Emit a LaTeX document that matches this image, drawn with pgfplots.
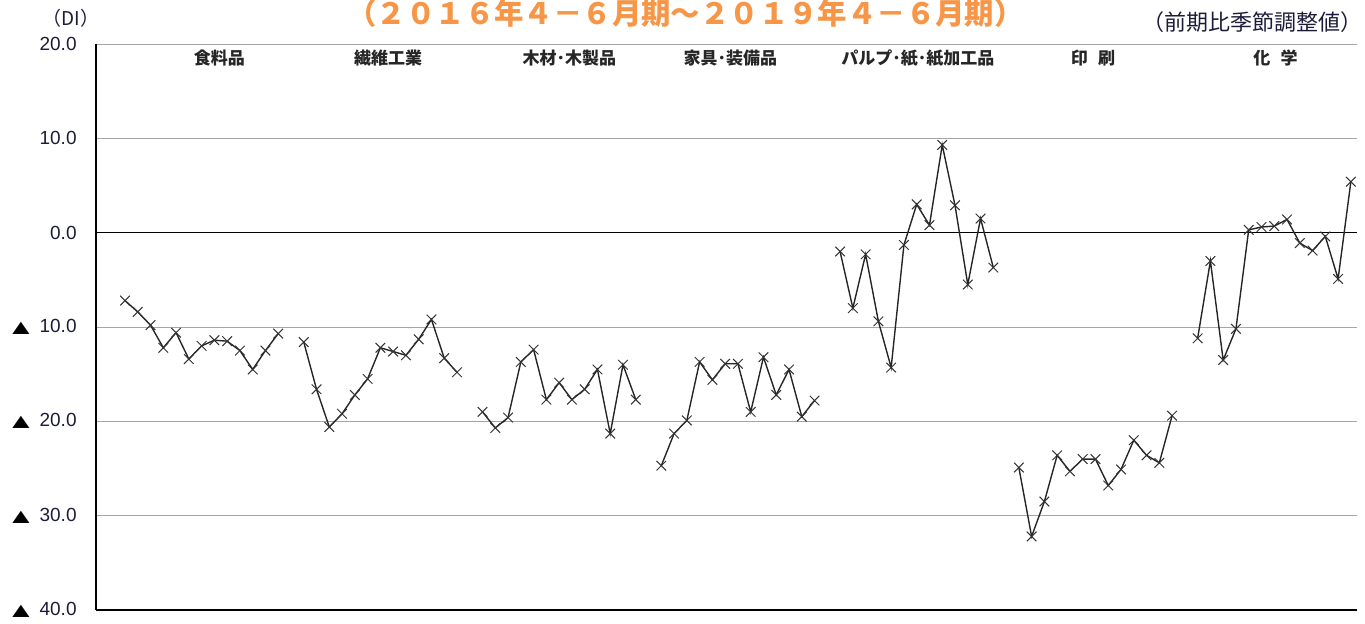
\documentclass[border=0pt]{standalone}
\usepackage{fontspec}
\setmainfont{Liberation Sans}
\newfontfamily\jp{Noto Sans CJK JP}
\newfontfamily\dv{DejaVu Sans}
\usepackage{pgfplots}
\pgfplotsset{compat=1.18}
\definecolor{ttl}{HTML}{F79646}
\definecolor{tk}{HTML}{1C1C38}
\newcommand{\tri}{\textcolor{black}{\scalebox{1.4}[1]{\dv\fontsize{8}{9}\selectfont ▲}}\hspace{5pt}}
\pgfplotsset{ser/.style={black!85, line width=0.7pt, mark=x, mark size=3.4pt, mark options={solid, black!80, line width=0.5pt}}}
\begin{document}
\begin{tikzpicture}
\path[use as bounding box] (-48pt,-6.5pt) rectangle (634.5pt,305pt);
\begin{axis}[
  at={(0,0)}, anchor=south west,
  width=630.5pt, height=283pt, scale only axis,
  xmin=-2.27, xmax=96.48, ymin=-40, ymax=20,
  axis lines=left, axis line style={-, black, line width=0.6pt},
  xtick=\empty,
  ytick={-40,-30,-20,-10,10,20},
  yticklabels={\tri 40.0,\tri 30.0,\tri 20.0,\tri 10.0,10.0,20.0},
  extra y ticks={0}, extra y tick labels={0.0},
  extra y tick style={major grid style={black, line width=0.6pt}},
  ymajorgrids, major grid style={gray!70, line width=0.5pt},
  major tick length=0pt,
  yticklabel style={font=\fontsize{9.5}{10}\selectfont, color=tk, inner sep=0pt, xshift=-9.5pt},
  clip=false,
]
% 食料品
\addplot[ser] coordinates {(0,-7.2)(1,-8.4)(2,-9.8)(3,-12.2)(4,-10.6)(5,-13.4)(6,-12.0)(7,-11.4)(8,-11.5)(9,-12.5)(10,-14.5)(11,-12.5)(12,-10.7)};
% 繊維工業
\addplot[ser] coordinates {(14,-11.6)(15,-16.6)(16,-20.6)(17,-19.2)(18,-17.2)(19,-15.5)(20,-12.2)(21,-12.6)(22,-13.0)(23,-11.3)(24,-9.2)(25,-13.3)(26,-14.8)};
% 木材・木製品
\addplot[ser] coordinates {(28,-19.0)(29,-20.7)(30,-19.6)(31,-13.7)(32,-12.4)(33,-17.7)(34,-15.9)(35,-17.7)(36,-16.6)(37,-14.5)(38,-21.3)(39,-14.0)(40,-17.7)};
% 家具・装備品
\addplot[ser] coordinates {(42,-24.7)(43,-21.3)(44,-19.9)(45,-13.7)(46,-15.6)(47,-13.9)(48,-13.9)(49,-19.0)(50,-13.2)(51,-17.2)(52,-14.5)(53,-19.5)(54,-17.8)};
% パルプ・紙・紙加工品
\addplot[ser] coordinates {(56,-2.0)(57,-8.0)(58,-2.3)(59,-9.4)(60,-14.3)(61,-1.3)(62,3.0)(63,0.8)(64,9.3)(65,2.9)(66,-5.5)(67,1.5)(68,-3.7)};
% 印刷
\addplot[ser] coordinates {(70,-24.9)(71,-32.2)(72,-28.5)(73,-23.6)(74,-25.3)(75,-24.0)(76,-24.0)(77,-26.8)(78,-25.1)(79,-22.0)(80,-23.6)(81,-24.4)(82,-19.4)};
% 化学
\addplot[ser] coordinates {(84,-11.2)(85,-3.0)(86,-13.5)(87,-10.2)(88,0.3)(89,0.6)(90,0.7)(91,1.4)(92,-1.1)(93,-1.9)(94,-0.4)(95,-4.9)(96,5.4)};

\begin{scope}[every node/.style={font=\jp\bfseries\fontsize{8.5}{9}\selectfont, text=black!85}]
\node at (axis cs:7.4,18.5) {食料品};
\node at (axis cs:20.6,18.5) {繊維工業};
\node at (axis cs:34.8,18.5) {木材･木製品};
\node at (axis cs:47.4,18.5) {家具･装備品};
\node at (axis cs:62.1,18.5) {パルプ･紙･紙加工品};
\node at (axis cs:75.8,18.5) {印\hspace{0.6em}刷};
\node at (axis cs:90.1,18.5) {化\hspace{0.6em}学};
\end{scope}
\node[font=\jp\bfseries\fontsize{14.7}{15}\selectfont, text=ttl, inner sep=0pt] at (axis cs:43.9,23.3) {（２０１６年４－６月期～２０１９年４－６月期）};
\node[font=\jp\fontsize{9.5}{10}\selectfont, text=tk] at (axis cs:-4.23,22.76) {（DI）};
\node[font=\jp\fontsize{11}{12}\selectfont, text=tk] at (axis cs:88.27,22.33) {（前期比季節調整値）};
\end{axis}
\end{tikzpicture}
\end{document}
